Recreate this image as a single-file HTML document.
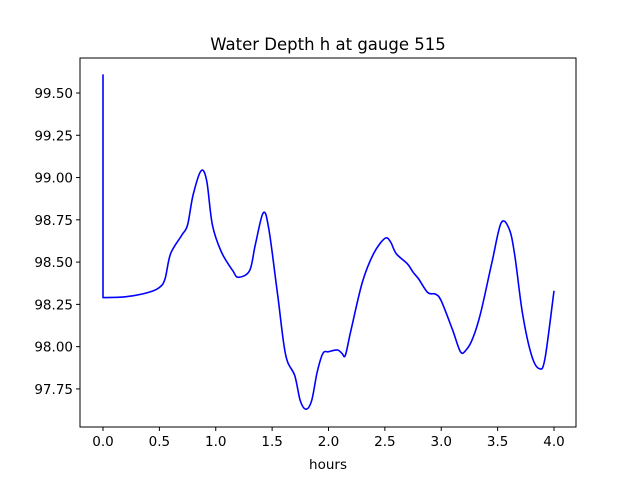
<!DOCTYPE html>
<html><head><meta charset="utf-8"><style>
body{margin:0;background:#fff;font-family:"Liberation Sans","DejaVu Sans",sans-serif}
svg text{font-family:"DejaVu Sans","Liberation Sans",sans-serif;fill:#000}
</style></head><body>
<svg id="chart" width="640" height="480" xmlns="http://www.w3.org/2000/svg"></svg>
<script>
const hours=[0,0,0.2,0.4,0.5,0.55,0.6,0.7,0.75,0.8,0.87,0.92,0.97,1.05,1.15,1.2,1.3,1.35,1.42,1.47,1.55,1.62,1.7,1.75,1.8,1.85,1.9,1.95,2.0,2.08,2.12,2.15,2.2,2.3,2.4,2.5,2.55,2.6,2.7,2.75,2.8,2.88,2.95,3.0,3.1,3.17,3.22,3.28,3.35,3.45,3.53,3.6,3.65,3.72,3.8,3.87,3.92,4.0];
const depth=[99.61,98.29,98.295,98.32,98.35,98.40,98.55,98.66,98.72,98.9,99.04,98.98,98.72,98.56,98.45,98.41,98.45,98.6,98.79,98.7,98.3,97.95,97.83,97.68,97.63,97.68,97.85,97.96,97.97,97.98,97.96,97.95,98.1,98.38,98.55,98.64,98.62,98.55,98.49,98.44,98.4,98.32,98.31,98.27,98.1,97.97,97.98,98.05,98.2,98.5,98.73,98.7,98.55,98.2,97.95,97.87,97.93,98.33];
const xTicks=[0,0.5,1,1.5,2,2.5,3,3.5,4];
const yTicks=[97.75,98.0,98.25,98.5,98.75,99.0,99.25,99.5];
const NS="http://www.w3.org/2000/svg";
const svg=document.getElementById('chart');
const L=80,R=576,T=58,B=427;
const xs=v=>103+v*112.75;
const ys=v=>93+(99.5-v)*169.1;
function mk(t,a,p){const e=document.createElementNS(NS,t);for(const k in a)e.setAttribute(k,a[k]);(p||svg).appendChild(e);return e;}
const frame=mk('rect',{x:L,y:T,width:R-L,height:B-T,fill:'none',stroke:'#000','stroke-width':1});


xTicks.forEach(v=>{
  const x=xs(v);
  const t=mk('line',{x1:x,x2:x,y1:B,y2:B+4,stroke:'#000'});
  
  
  const l=mk('text',{x:x,y:B+19,'text-anchor':'middle','font-size':13.5});
  l.textContent=v.toFixed(1);
  
  
});
yTicks.forEach(v=>{
  const y=ys(v);
  const t=mk('line',{x1:L-4,x2:L,y1:y,y2:y,stroke:'#000'});
  
  
  const l=mk('text',{x:L-7,y:y+5,'text-anchor':'end','font-size':13.5});
  l.textContent=v.toFixed(2);
  
  
});
// smooth curve (Catmull-Rom) after initial vertical drop
const P=hours.map((h,i)=>[xs(h),ys(depth[i])]);
let d='M'+P[0][0].toFixed(1)+','+P[0][1].toFixed(1)+'L'+P[1][0].toFixed(1)+','+P[1][1].toFixed(1);
for(let i=1;i<P.length-1;i++){
  const p0=P[Math.max(1,i-1)],p1=P[i],p2=P[i+1],p3=P[Math.min(P.length-1,i+2)];
  const c1=[p1[0]+(p2[0]-p0[0])/6,p1[1]+(p2[1]-p0[1])/6];
  const c2=[p2[0]-(p3[0]-p1[0])/6,p2[1]-(p3[1]-p1[1])/6];
  d+='C'+c1[0].toFixed(1)+','+c1[1].toFixed(1)+' '+c2[0].toFixed(1)+','+c2[1].toFixed(1)+' '+p2[0].toFixed(1)+','+p2[1].toFixed(1);
}
const line=mk('path',{d:d,fill:'none',stroke:'#0000ff','stroke-width':1.6,'stroke-linejoin':'round'});


const title=mk('text',{x:328,y:50,'text-anchor':'middle','font-size':16.5});
title.textContent='Water Depth h at gauge 515';


const xl=mk('text',{x:328,y:469,'text-anchor':'middle','font-size':13.5});
xl.textContent='hours';


</script>
</body></html>
